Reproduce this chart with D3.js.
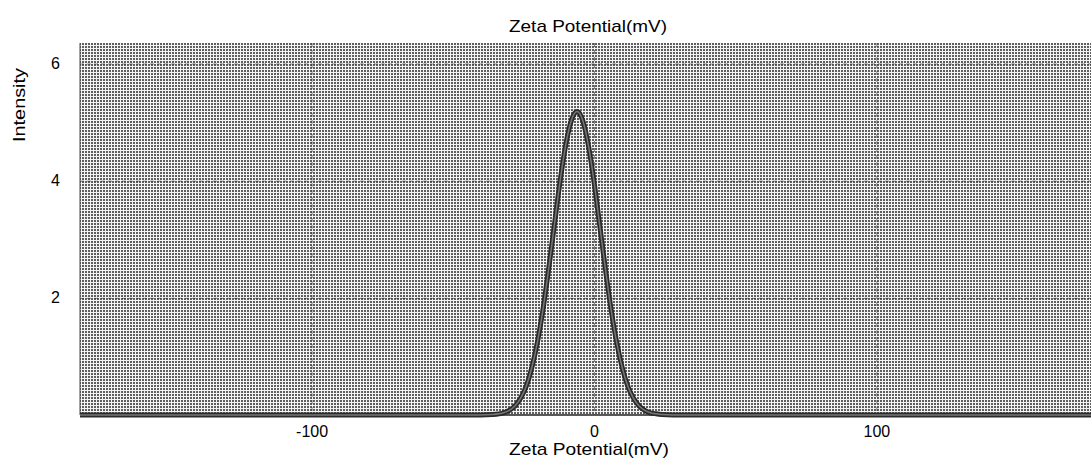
<!DOCTYPE html>
<html><head><meta charset="utf-8">
<script src="https://cdn.jsdelivr.net/npm/d3@7/dist/d3.min.js"></script>
<style>html,body{margin:0;padding:0;background:#fff;}svg{display:block;}</style>
</head><body>
<svg id="c" width="1091" height="459"></svg>
<script>
const zeta = [-182,-60,-40,-36,-32,-30,-28,-26,-24,-22,-20,-18,-16,-14,-12,-10,-8,-6,-4,-2,0,2,4,6,8,10,12,14,16,18,20,22,24,28,60,176];
const intensity = [0,0,0,0.008,0.038,0.079,0.155,0.285,0.49,0.81,1.25,1.82,2.51,3.25,3.99,4.61,5.03,5.18,5.03,4.61,3.99,3.25,2.51,1.82,1.25,0.81,0.49,0.285,0.155,0.079,0.038,0.02,0.008,0,0,0];
const xTicks = [-100,0,100];
const yTicks = [2,4,6];
const title = "Zeta Potential(mV)";
const xLabel = "Zeta Potential(mV)";
const yLabel = "Intensity";

const FONT = "'Liberation Sans', Arial, sans-serif";
const svg = d3.select("#c");
const L=80,R=1091,T=43,B=415;
const x = d3.scaleLinear().domain([-182,176]).range([L,R]);
const y = d3.scaleLinear().domain([0,6.35]).range([B,T]);

const defs = svg.append("defs");
const pat = defs.append("pattern").attr("id","ht").attr("width",3).attr("height",3).attr("patternUnits","userSpaceOnUse");
pat.append("rect").attr("width",3).attr("height",3).attr("fill","#f4f4f4");
pat.append("rect").attr("x",1).attr("y",1).attr("width",2).attr("height",2).attr("fill","#5e5e5e");

svg.append("rect").attr("x",L).attr("y",T).attr("width",R-L).attr("height",B-T).attr("fill","url(#ht)");

const g = svg.append("g");
g.selectAll(".gy").data(yTicks).join("line")
  .attr("x1",L).attr("x2",R).attr("y1",d=>y(d)+0.5).attr("y2",d=>y(d)+0.5)
  .attr("stroke","#222").attr("stroke-width",1).attr("stroke-dasharray","4,3").attr("opacity",0.55);
g.selectAll(".gx").data(xTicks).join("line")
  .attr("y1",T).attr("y2",B).attr("x1",d=>x(d)+0.5).attr("x2",d=>x(d)+0.5)
  .attr("stroke","#222").attr("stroke-width",1).attr("stroke-dasharray","4,3").attr("opacity",0.55);

svg.append("line").attr("x1",L).attr("x2",R).attr("y1",B).attr("y2",B).attr("stroke","#222").attr("stroke-width",1.5);
svg.append("line").attr("x1",L).attr("x2",L).attr("y1",T).attr("y2",B).attr("stroke","#444").attr("stroke-width",1);

const pts = zeta.map((d,i)=>[d,intensity[i]]);
const line = d3.line().x(d=>x(d[0])).y(d=>y(d[1])).curve(d3.curveMonotoneX);
svg.append("path").attr("d",line(pts)).attr("fill","none").attr("stroke","#2a2a2a").attr("stroke-width",5);
svg.append("path").attr("d",line(pts)).attr("fill","none").attr("stroke","#777").attr("stroke-width",1.5);

const xAxis = d3.axisBottom(x).tickValues(xTicks).tickSize(0).tickFormat(d=>String(d));
const ax = svg.append("g").attr("transform",`translate(0,${B})`).call(xAxis);
ax.select(".domain").remove();
ax.selectAll("text").attr("font-family",FONT).attr("font-size",16).attr("fill","#000").attr("y",22).attr("dy",0);

const yAxis = d3.axisLeft(y).tickValues(yTicks).tickSize(0).tickPadding(20).tickFormat(d3.format("d"));
const ay = svg.append("g").attr("transform",`translate(${L},0)`).call(yAxis);
ay.select(".domain").remove();
ay.selectAll("text").attr("font-family",FONT).attr("font-size",16).attr("fill","#000");

svg.append("text").attr("x",588).attr("y",32).attr("text-anchor","middle")
  .attr("font-family",FONT).attr("font-size",17).attr("textLength",158).attr("lengthAdjust","spacingAndGlyphs").text(title);
svg.append("text").attr("x",589).attr("y",455).attr("text-anchor","middle")
  .attr("font-family",FONT).attr("font-size",17).attr("textLength",160).attr("lengthAdjust","spacingAndGlyphs").text(xLabel);
svg.append("text").attr("transform","translate(25,105) rotate(-90)").attr("text-anchor","middle")
  .attr("font-family",FONT).attr("font-size",16).attr("textLength",74).attr("lengthAdjust","spacingAndGlyphs").text(yLabel);
</script>
</body></html>
